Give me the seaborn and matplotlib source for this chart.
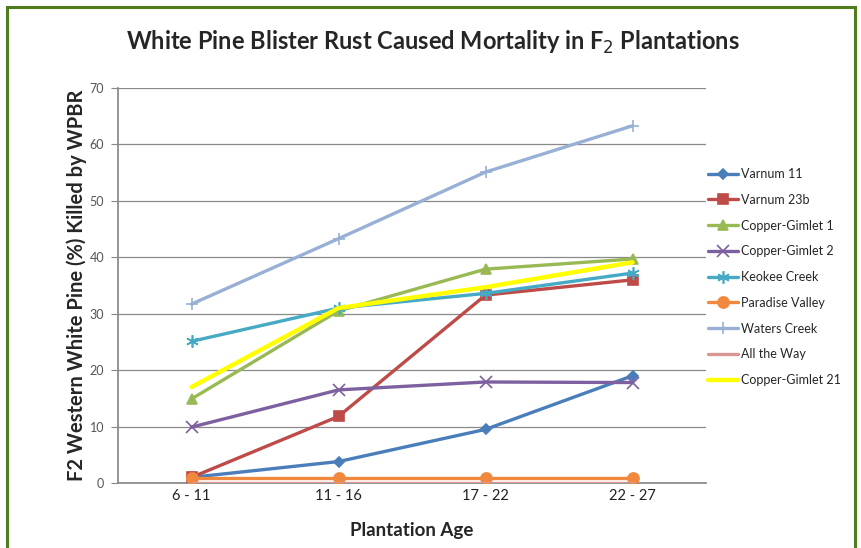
import matplotlib
matplotlib.use("Agg")
import matplotlib.pyplot as plt
import seaborn as sns
import pandas as pd
from matplotlib.patches import Rectangle

# Donnees
ages = ["6 - 11", "11 - 16", "17 - 22", "22 - 27"]
varnum_11 = [1.0, 3.8, 9.5, 19.0]
varnum_23b = [1.0, 11.8, 33.3, 36.0]
copper_gimlet_1 = [14.9, 30.5, 37.9, 39.7]
copper_gimlet_2 = [9.9, 16.5, 17.9, 17.8]
keokee_creek = [25.1, 31.0, 33.6, 37.2]
paradise_valley = [0.8, 0.8, 0.8, 0.8]
waters_creek = [31.7, 43.3, 55.1, 63.3]
all_the_way = [0.0, 0.0, 0.0, 0.0]
copper_gimlet_21 = [17.0, 31.0, 34.7, 39.1]

series = {
    "Varnum 11": varnum_11,
    "Varnum 23b": varnum_23b,
    "Copper-Gimlet 1": copper_gimlet_1,
    "Copper-Gimlet 2": copper_gimlet_2,
    "Keokee Creek": keokee_creek,
    "Paradise Valley": paradise_valley,
    "Waters Creek": waters_creek,
    "All the Way": all_the_way,
    "Copper-Gimlet 21": copper_gimlet_21,
}

couleurs = {
    "Varnum 11": "#4a7ebb",
    "Varnum 23b": "#be4b48",
    "Copper-Gimlet 1": "#98b954",
    "Copper-Gimlet 2": "#7d60a0",
    "Keokee Creek": "#46aac5",
    "Paradise Valley": "#f0883e",
    "Waters Creek": "#98b0d5",
    "All the Way": "#d99694",
    "Copper-Gimlet 21": "#ffff00",
}
marqueurs = {
    "Varnum 11": "D",
    "Varnum 23b": "s",
    "Copper-Gimlet 1": "^",
    "Copper-Gimlet 2": "x",
    "Keokee Creek": (6, 2, 0),
    "Paradise Valley": "o",
    "Waters Creek": "+",
    "All the Way": None,
    "Copper-Gimlet 21": None,
}
tailles = {"D": 5.5, "s": 7, "^": 7, "x": 8, "o": 8, "+": 9, None: 0}

sns.set_theme(style="white")
plt.rcParams["font.family"] = ["Lato", "DejaVu Sans"]

fig = plt.figure(figsize=(8.61, 5.48), dpi=100)
ax = fig.add_axes([118 / 861, 1 - 483 / 548, 588 / 861, 395 / 548])

for nom, valeurs in series.items():
    df = pd.DataFrame({"x": range(len(ages)), "y": valeurs})
    m = marqueurs[nom]
    ms = 9 if isinstance(m, tuple) else tailles[m]
    lw = 3.2 if nom == "Copper-Gimlet 21" else 2.4
    sns.lineplot(data=df, x="x", y="y", ax=ax, color=couleurs[nom], marker=m,
                 markersize=ms, markeredgecolor=couleurs[nom], markeredgewidth=1.2,
                 linewidth=lw, label=nom, zorder=3)

ax.set_xlim(-0.5, 3.5)
ax.set_ylim(0, 70)
ax.set_yticks(range(0, 71, 10))
ax.set_xticks(range(len(ages)))
ax.set_xticklabels(ages, fontsize=10.5, color="#222222")
ax.tick_params(axis="y", labelsize=9, labelcolor="#555555", length=5, width=0.8,
               color="#888888", left=True, pad=5)
ax.tick_params(axis="x", length=0, pad=4)
ax.grid(axis="y", color="#8a8a8a", linewidth=0.9)
ax.set_axisbelow(True)
for cote in ["top", "right"]:
    ax.spines[cote].set_visible(False)
ax.spines["left"].set_color("#888888")
ax.spines["bottom"].set_color("#888888")

ax.set_xlabel("Plantation Age", fontsize=13.5, fontweight="bold", labelpad=14)
ax.set_ylabel("F2 Western White Pine (%) Killed by WPBR", fontsize=14.5,
              fontweight="bold", labelpad=2)

fig.text(433 / 861, 1 - 42 / 548, "White Pine Blister Rust Caused Mortality in F$_2$ Plantations",
         ha="center", va="center", fontsize=17, fontweight="bold")

leg = ax.legend(loc="upper left", bbox_to_anchor=(0.995, 0.81), frameon=False,
                fontsize=9, handlelength=2.4, handletextpad=0.2, labelspacing=1.1,
                borderaxespad=0.0)

fig.patches.append(Rectangle((7 / 861, -0.02), 848 / 861, 1 - 7 / 548 + 0.02,
                             transform=fig.transFigure, fill=False,
                             edgecolor="#4e7d1e", linewidth=2.2))

plt.savefig("out.png", dpi=100)
